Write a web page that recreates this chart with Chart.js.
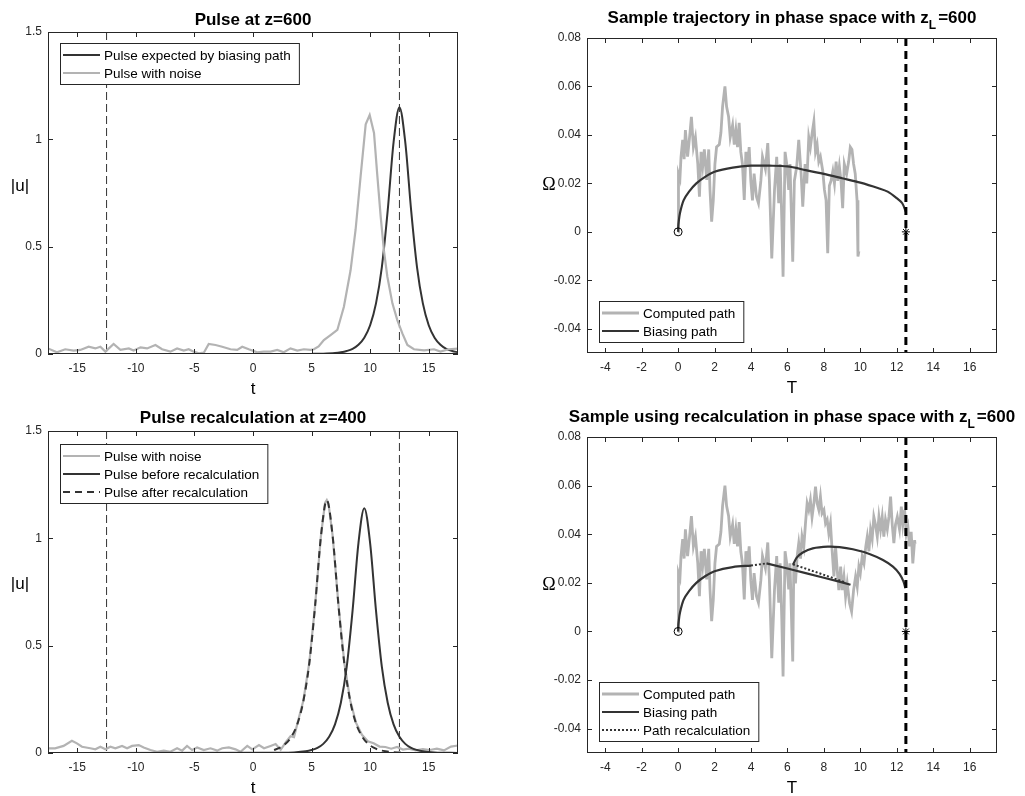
<!DOCTYPE html>
<html>
<head>
<meta charset="utf-8">
<script src="https://cdn.jsdelivr.net/npm/chart.js@4.4.0/dist/chart.umd.min.js"></script>
<style>
  body { margin: 0; background: #fff; width: 1025px; height: 796px; position: relative; overflow: hidden; }
  canvas { position: absolute; }
</style>
</head>
<body>
<canvas id="pulse600" style="left:0;top:0" width="512" height="395"></canvas>
<canvas id="phase600" style="left:512px;top:0" width="513" height="395"></canvas>
<canvas id="pulse400" style="left:0;top:395px" width="512" height="401"></canvas>
<canvas id="phaseRecalc" style="left:512px;top:395px" width="513" height="401"></canvas>
<script>
// four panels: pulse shapes (left) and phase-space paths (right)

const FONT = '"Liberation Sans", Arial, Helvetica, sans-serif';
const INK = '#262626';
const DARK = '#333333';
const GREY = '#b3b3b3';

// ---- axes ----
const tTicks = [-15, -10, -5, 0, 5, 10, 15];
const uTicks = [0, 0.5, 1, 1.5];
const TTicks = [-4, -2, 0, 2, 4, 6, 8, 10, 12, 14, 16];
const omegaTicks = [-0.04, -0.02, 0, 0.02, 0.04, 0.06, 0.08];
const tRange = [-17.5, 17.5];
const uRange = [0, 1.5];
const TRange = [-5, 17.5];
const omegaRange = [-0.05, 0.08];

// ---- pulse at z=600 ----
const windowEdges = [-12.5, 12.5];
const expectedT600 = [-17.5, 4, 5, 6, 7, 7.5, 8, 8.5, 9, 9.5, 10, 10.5, 11, 11.5, 12, 12.5, 13, 13.5, 14, 14.5, 15, 15.5, 16, 16.5, 17, 17.5];
const expectedU600 = [0, 0.0003, 0.0005, 0.0014, 0.0044, 0.008, 0.014, 0.024, 0.043, 0.076, 0.134, 0.236, 0.405, 0.669, 0.986, 1.15, 0.986, 0.669, 0.405, 0.236, 0.134, 0.076, 0.043, 0.024, 0.014, 0.008];
const noisyPulse600 = [
  [-17.5, 0.026], [-16.74, 0.008], [-16.03, 0.022], [-15.31, 0.016], [-14.74, 0.019], [-14.03, 0.034],
  [-13.46, 0.026], [-13.03, 0.034], [-12.6, 0.011], [-11.9, 0.047], [-11.32, 0.019], [-10.6, 0.026],
  [-10.19, 0.016], [-9.6, 0.031], [-9.04, 0.026], [-8.33, 0.042], [-7.76, 0.022], [-7.05, 0.011],
  [-6.48, 0.026], [-5.91, 0.016], [-5.49, 0.022], [-5.06, 0.011], [-4.63, 0.003], [-4.2, 0.006],
  [-3.78, 0.047], [-3.2, 0.042], [-2.63, 0.034], [-1.92, 0.022], [-1.35, 0.019], [-0.92, 0.034],
  [-0.36, 0.022], [0.36, 0.008], [0.92, 0.011], [1.5, 0.011], [2.07, 0.019], [2.63, 0.008],
  [3.2, 0.026], [3.78, 0.016], [4.34, 0.022], [4.91, 0.019], [5.2, 0.022], [5.6, 0.035],
  [6.05, 0.065], [6.62, 0.088], [7.2, 0.112], [7.76, 0.22], [8.33, 0.39], [8.76, 0.58],
  [9.19, 0.83], [9.62, 1.07], [9.96, 1.113], [10.33, 1.03], [10.6, 0.84], [10.9, 0.64],
  [11.18, 0.48], [11.47, 0.36], [11.9, 0.236], [12.32, 0.158], [12.75, 0.096], [13.18, 0.042],
  [13.74, 0.022], [14.6, 0.017], [15.45, 0.022], [16.0, 0.011], [16.7, 0.022], [17.5, 0.025]
];

// ---- pulse recalculation at z=400 ----
const beforeT400 = [-17.5, 2.5, 3.5, 4.5, 5, 5.5, 6, 6.5, 7, 7.5, 8, 8.5, 9, 9.5, 10, 10.5, 11, 11.5, 12, 12.5, 13, 13.5, 14, 14.5, 15.5, 17.5];
const beforeU400 = [0, 0.0008, 0.0025, 0.0079, 0.0139, 0.0238, 0.0426, 0.0753, 0.133, 0.234, 0.401, 0.663, 0.977, 1.14, 0.977, 0.663, 0.401, 0.234, 0.133, 0.0753, 0.0426, 0.0238, 0.0139, 0.0079, 0.0025, 0.0003];
const afterT400 = [1.8, 2.3, 2.8, 3.3, 3.8, 4.3, 4.8, 5.3, 5.8, 6.3, 6.8, 7.3, 7.8, 8.3, 8.8, 9.3, 9.8, 10.3, 10.8, 11.3, 11.8, 12.3, 12.8];
const afterU400 = [0.014, 0.025, 0.044, 0.078, 0.137, 0.242, 0.415, 0.685, 1.01, 1.178, 1.01, 0.685, 0.415, 0.242, 0.137, 0.078, 0.044, 0.025, 0.014, 0.008, 0.0045, 0.0026, 0.0015];
const noisyPulse400 = [
  [-17.5, 0.022], [-16.9, 0.022], [-16.17, 0.033], [-15.46, 0.057], [-15.03, 0.045], [-14.6, 0.029],
  [-13.89, 0.022], [-13.46, 0.017], [-13.03, 0.029], [-12.6, 0.017], [-12.17, 0.029], [-11.75, 0.022],
  [-11.18, 0.033], [-10.75, 0.022], [-10.32, 0.033], [-9.75, 0.037], [-9.33, 0.026], [-8.76, 0.014],
  [-8.19, 0.006], [-7.62, 0.011], [-7.05, 0.006], [-6.48, 0.022], [-6.05, 0.011], [-5.63, 0.033],
  [-5.2, 0.014], [-4.77, 0.026], [-4.2, 0.014], [-3.63, 0.022], [-3.06, 0.011], [-2.63, 0.022],
  [-2.06, 0.026], [-1.49, 0.017], [-1.06, 0.006], [-0.49, 0.033], [-0.06, 0.017], [0.51, 0.037],
  [0.94, 0.022], [1.5, 0.033], [1.93, 0.042], [2.36, 0.015], [2.8, 0.05], [3.2, 0.078],
  [3.5, 0.074], [3.8, 0.14], [4.3, 0.245], [4.8, 0.418], [5.3, 0.688], [5.8, 1.012],
  [6.15, 1.165], [6.3, 1.178], [6.45, 1.16], [6.8, 1.012], [7.3, 0.688], [7.8, 0.418],
  [8.3, 0.245], [8.8, 0.14], [9.3, 0.085], [9.8, 0.055], [10.3, 0.045], [10.8, 0.03],
  [11.3, 0.028], [11.8, 0.02], [12.3, 0.028], [12.8, 0.016], [13.3, 0.02], [13.9, 0.012],
  [14.5, 0.018], [15.1, 0.014], [15.7, 0.02], [16.3, 0.012], [16.9, 0.03], [17.5, 0.035]
];

// ---- phase space paths (T, Omega) ----
const targetT = 12.5;
const startPoint = [[0, 0]];
const targetPoint = [[12.5, 0]];
// noisy path, identical in both runs until the recalculation
const computedHead = [
  [0, 0], [0.02, 0.024], [0.1, 0.022], [0.16, 0.031], [0.25, 0.038], [0.33, 0.03], [0.4, 0.042],
  [0.52, 0.031], [0.65, 0.0407], [0.73, 0.0475], [0.84, 0.035], [0.95, 0.039], [1.08, 0.028],
  [1.17, 0.0145], [1.26, 0.033], [1.35, 0.027], [1.44, 0.034], [1.57, 0.0214], [1.68, 0.034],
  [1.75, 0.0173], [1.84, 0.0042], [1.93, 0.013], [2.02, 0.028], [2.11, 0.035], [2.26, 0.036],
  [2.35, 0.041], [2.44, 0.0517], [2.57, 0.06], [2.66, 0.0517], [2.77, 0.0475], [2.86, 0.039],
  [2.99, 0.044], [3.08, 0.036], [3.17, 0.042], [3.26, 0.035], [3.35, 0.045], [3.44, 0.033],
  [3.53, 0.028], [3.63, 0.0132], [3.72, 0.033], [3.81, 0.027], [3.9, 0.035], [3.99, 0.021],
  [4.08, 0.013], [4.17, 0.024], [4.3, 0.0145], [4.41, 0.0118], [4.54, 0.021], [4.63, 0.031],
  [4.79, 0.026], [4.92, 0.0366], [5.01, 0.021], [5.14, -0.011], [5.29, 0.0173], [5.41, 0.031],
  [5.52, 0.0118], [5.6, 0.028], [5.69, 0.0049], [5.76, -0.0185], [5.87, 0.033], [5.96, 0.028],
  [6.07, 0.0173], [6.14, 0.028], [6.29, -0.0123]
];
const computedTail600 = [
  [6.38, 0.021], [6.51, 0.027], [6.62, 0.038], [6.75, 0.024], [6.84, 0.0104], [6.97, 0.028],
  [7.06, 0.02], [7.17, 0.039], [7.26, 0.035], [7.36, 0.041], [7.45, 0.0455], [7.54, 0.033],
  [7.63, 0.036], [7.72, 0.029], [7.81, 0.031], [7.94, 0.025], [8.03, 0.0173], [8.12, 0.013],
  [8.21, -0.0088], [8.3, 0.019], [8.39, 0.021], [8.49, 0.025], [8.58, 0.02], [8.67, 0.029],
  [8.76, 0.021], [8.85, 0.027], [8.94, 0.021], [9.03, 0.0098], [9.12, 0.028], [9.25, 0.024],
  [9.36, 0.029], [9.45, 0.035], [9.54, 0.034], [9.63, 0.028], [9.72, 0.024], [9.82, 0.013],
  [9.87, -0.0102], [9.92, -0.008]
];
const computedTailRecalc = [
  [6.35, 0.028], [6.44, 0.0198], [6.53, 0.0308], [6.62, 0.0363], [6.72, 0.03], [6.8, 0.039],
  [6.9, 0.035], [6.99, 0.0445], [7.08, 0.0527], [7.17, 0.05], [7.26, 0.054], [7.35, 0.047],
  [7.45, 0.0527], [7.54, 0.0596], [7.63, 0.0527], [7.72, 0.05], [7.81, 0.0555], [7.9, 0.0486],
  [8.0, 0.05], [8.09, 0.0445], [8.18, 0.046], [8.27, 0.0404], [8.36, 0.0445], [8.45, 0.0335],
  [8.55, 0.0226], [8.64, 0.035], [8.73, 0.0253], [8.82, 0.017], [8.92, 0.0267], [9.0, 0.017],
  [9.1, 0.0226], [9.19, 0.0143], [9.28, 0.0198], [9.41, 0.0116], [9.52, 0.0082], [9.63, 0.017],
  [9.74, 0.0226], [9.83, 0.0185], [9.92, 0.0267], [10.0, 0.024], [10.1, 0.0308], [10.2, 0.028],
  [10.3, 0.035], [10.38, 0.039], [10.47, 0.033], [10.56, 0.0418], [10.65, 0.038], [10.74, 0.0472],
  [10.83, 0.044], [10.93, 0.039], [11.02, 0.0472], [11.11, 0.042], [11.2, 0.0472], [11.29, 0.039],
  [11.38, 0.046], [11.48, 0.042], [11.57, 0.0472], [11.66, 0.0555], [11.75, 0.044], [11.84, 0.0363],
  [11.93, 0.044], [12.03, 0.0472], [12.15, 0.042], [12.25, 0.0514], [12.33, 0.044], [12.43, 0.05],
  [12.52, 0.04], [12.61, 0.043], [12.7, 0.035], [12.79, 0.041], [12.88, 0.028], [12.98, 0.0376], [13.0, 0.036]
];
const biasing600 = [
  [0, 0], [0.01, 0.0025], [0.03, 0.004], [0.1, 0.0077], [0.3, 0.013], [0.6, 0.0166], [1, 0.02],
  [1.5, 0.0228], [2, 0.0248], [3, 0.0265], [4, 0.0273], [5, 0.0273], [6, 0.027], [7, 0.0255],
  [8, 0.0239], [9, 0.0221], [10, 0.0203], [11, 0.018], [11.5, 0.0166], [12, 0.0139], [12.3, 0.0118], [12.5, 0.0083]
];
const biasingPart1 = [
  [0, 0], [0.01, 0.0025], [0.03, 0.004], [0.1, 0.0077], [0.3, 0.013], [0.6, 0.0166], [1, 0.02],
  [1.5, 0.0228], [2, 0.0248], [3, 0.0265], [4, 0.0271]
];
const biasingPart2 = [[4.85, 0.028], [6, 0.0259], [7, 0.024], [8, 0.0221], [9, 0.0202], [9.46, 0.0192]];
const biasingPart3 = [
  [6.3, 0.0274], [6.5, 0.0303], [6.84, 0.0325], [7.39, 0.0342], [8.22, 0.0349], [8.86, 0.0347],
  [9.59, 0.0338], [10.5, 0.0319], [11.24, 0.0294], [11.79, 0.0267], [12.15, 0.0237], [12.37, 0.0205], [12.47, 0.0178]
];
const recalcStep1 = [[4, 0.0271], [4.45, 0.0276], [4.85, 0.028]];
const recalcStep2 = [[6.3, 0.0276], [7.5, 0.0246], [9.1, 0.0204]];

// ---- helpers ----
function pairs(xs, ys) { return xs.map((x, i) => ({ x, y: ys[i] })); }
function pts(list) { return list.map(p => ({ x: p[0], y: p[1] })); }
function vline(x, range) { return [{ x, y: range[1] }, { x, y: range[0] }]; }

function line(label, data, color, width, extra) {
  return Object.assign({
    label, data, borderColor: color, backgroundColor: color, borderWidth: width,
    showLine: true, pointRadius: 0, fill: false, tension: 0
  }, extra || {});
}
function marker(label, data, style, size) {
  return {
    label, data, showLine: false, pointStyle: style, pointRadius: size,
    borderColor: '#000', backgroundColor: 'rgba(0,0,0,0)', pointBorderWidth: 1, order: 0
  };
}

function framePlugin(cfg) {
  return {
    id: 'frame',
    afterDraw(chart) {
      const { ctx, chartArea: a } = chart;
      const sx = chart.scales.x, sy = chart.scales.y;
      ctx.save();
      ctx.setLineDash([]);
      ctx.strokeStyle = INK;
      ctx.lineWidth = 1;
      ctx.strokeRect(a.left + 0.5, a.top + 0.5, a.right - a.left - 1, a.bottom - a.top - 1);
      ctx.beginPath();
      sx.ticks.forEach(t => {
        const px = Math.round(sx.getPixelForValue(t.value)) + 0.5;
        ctx.moveTo(px, a.bottom); ctx.lineTo(px, a.bottom - 5);
        ctx.moveTo(px, a.top); ctx.lineTo(px, a.top + 5);
      });
      sy.ticks.forEach(t => {
        const py = Math.round(sy.getPixelForValue(t.value)) + 0.5;
        ctx.moveTo(a.left, py); ctx.lineTo(a.left + 5, py);
        ctx.moveTo(a.right, py); ctx.lineTo(a.right - 5, py);
      });
      ctx.stroke();

      // legend box inside the axes
      const L = cfg.legend;
      ctx.font = '13.5px ' + FONT;
      const items = L.labels.map(lab => chart.data.datasets.find(d => d.label === lab));
      const tw = Math.max(...L.labels.map(s => ctx.measureText(s).width));
      const w = 44 + tw + 8, h = 5 + 18 * items.length;
      const left = a.left + 12;
      const top = L.top != null ? a.top + L.top : a.bottom - L.bottom - h;
      ctx.fillStyle = '#fff';
      ctx.fillRect(left, top, w, h);
      ctx.strokeStyle = INK;
      ctx.lineWidth = 1;
      ctx.strokeRect(left + 0.5, top + 0.5, w, h);
      items.forEach((d, i) => {
        const cy = top + 12 + 18 * i;
        ctx.strokeStyle = d.borderColor;
        ctx.lineWidth = d.borderWidth;
        ctx.setLineDash(d.borderDash || []);
        ctx.beginPath(); ctx.moveTo(left + 3, cy); ctx.lineTo(left + 40, cy); ctx.stroke();
        ctx.setLineDash([]);
        ctx.fillStyle = '#000';
        ctx.textAlign = 'left';
        ctx.textBaseline = 'middle';
        ctx.fillText(d.label, left + 44, cy + 1);
      });

      // title, with optional subscript part
      const fMain = 'bold 17px ' + FONT, fSub = 'bold 12px ' + FONT;
      ctx.textBaseline = 'alphabetic';
      ctx.textAlign = 'left';
      ctx.fillStyle = '#000';
      let total = 0;
      cfg.title.forEach(p => { ctx.font = p[1] ? fSub : fMain; total += ctx.measureText(p[0]).width + (p[1] ? 2 : 0); });
      let x = (a.left + a.right) / 2 - total / 2;
      const base = a.top - cfg.titleGap;
      cfg.title.forEach(p => {
        ctx.font = p[1] ? fSub : fMain;
        ctx.fillText(p[0], x, base + (p[1] ? 6 : 0));
        x += ctx.measureText(p[0]).width + (p[1] ? 2 : 0);
      });

      // axis labels
      ctx.font = '17px ' + FONT;
      ctx.textAlign = 'center';
      ctx.fillText(cfg.xLabel, (a.left + a.right) / 2, a.bottom + 40);
      ctx.font = cfg.yFont;
      ctx.textBaseline = 'middle';
      ctx.fillText(cfg.yLabel, a.left - cfg.yDx, (a.top + a.bottom) / 2 - cfg.yDy);
      ctx.restore();
    }
  };
}

function axis(range, ticks, pad, fit) {
  return {
    type: 'linear', min: range[0], max: range[1],
    grid: { display: false, drawTicks: false },
    border: { display: false },
    ticks: {
      color: INK, font: { family: FONT, size: 12 }, padding: pad,
      autoSkip: false, maxRotation: 0, callback: v => String(v)
    },
    afterBuildTicks: s => { s.ticks = ticks.map(v => ({ value: v })); },
    afterFit: fit
  };
}

function makeChart(id, cfg) {
  return new Chart(document.getElementById(id), {
    type: 'scatter',
    data: { datasets: cfg.datasets },
    options: {
      responsive: false,
      animation: false,
      layout: { padding: cfg.pad },
      plugins: { legend: { display: false }, tooltip: { enabled: false } },
      scales: {
        x: axis(cfg.xRange, cfg.xTicks, 7, s => { s.height = cfg.xHeight; }),
        y: axis(cfg.yRange, cfg.yTicks, 6, s => { s.width = cfg.yWidth; })
      }
    },
    plugins: [framePlugin(cfg)]
  });
}

const guideStyle = { borderDash: [8, 4], order: 6 };
const smooth = { cubicInterpolationMode: 'monotone' };

makeChart('pulse600', {
  xRange: tRange, yRange: uRange, xTicks: tTicks, yTicks: uTicks,
  pad: { left: 0, top: 32, right: 54, bottom: 0 }, yWidth: 48, xHeight: 41,
  title: [['Pulse at z=600']], titleGap: 7,
  xLabel: 't', yLabel: '|u|', yFont: '17px ' + FONT, yDx: 28, yDy: 7,
  legend: { labels: ['Pulse expected by biasing path', 'Pulse with noise'], top: 11 },
  datasets: [
    line('Pulse with noise', pts(noisyPulse600), GREY, 2.2, { order: 1 }),
    line('Pulse expected by biasing path', pairs(expectedT600, expectedU600), DARK, 2, Object.assign({ order: 2 }, smooth)),
    line('edge1', vline(windowEdges[0], uRange), DARK, 1, guideStyle),
    line('edge2', vline(windowEdges[1], uRange), DARK, 1, guideStyle)
  ]
});

makeChart('phase600', {
  xRange: TRange, yRange: omegaRange, xTicks: TTicks, yTicks: omegaTicks,
  pad: { left: 0, top: 38, right: 28, bottom: 0 }, yWidth: 75, xHeight: 42,
  title: [['Sample trajectory in phase space with z'], ['L', true], ['=600']], titleGap: 15,
  xLabel: 'T', yLabel: '\u03A9', yFont: '18px "Liberation Serif", "DejaVu Serif", serif', yDx: 38, yDy: 10,
  legend: { labels: ['Computed path', 'Biasing path'], bottom: 11 },
  datasets: [
    line('Computed path', pts(computedHead.concat(computedTail600)), GREY, 2.8, { order: 5 }),
    line('Biasing path', pts(biasing600), DARK, 2.2, { order: 2, tension: 0.3 }),
    line('target', vline(targetT, omegaRange), '#000', 3, { borderDash: [8, 5], order: 1 }),
    marker('start', pts(startPoint), 'circle', 4),
    marker('end', pts(targetPoint), 'star', 4)
  ]
});

makeChart('pulse400', {
  xRange: tRange, yRange: uRange, xTicks: tTicks, yTicks: uTicks,
  pad: { left: 0, top: 36, right: 54, bottom: 0 }, yWidth: 48, xHeight: 43,
  title: [['Pulse recalculation at z=400']], titleGap: 8,
  xLabel: 't', yLabel: '|u|', yFont: '17px ' + FONT, yDx: 28, yDy: 8,
  legend: { labels: ['Pulse with noise', 'Pulse before recalculation', 'Pulse after recalculation'], top: 13 },
  datasets: [
    line('Pulse with noise', pts(noisyPulse400), GREY, 2.2, { order: 3 }),
    line('Pulse before recalculation', pairs(beforeT400, beforeU400), DARK, 2, Object.assign({ order: 2 }, smooth)),
    line('Pulse after recalculation', pairs(afterT400, afterU400), DARK, 2, Object.assign({ order: 1, borderDash: [7, 5] }, smooth)),
    line('edge1', vline(windowEdges[0], uRange), DARK, 1, guideStyle),
    line('edge2', vline(windowEdges[1], uRange), DARK, 1, guideStyle)
  ]
});

makeChart('phaseRecalc', {
  xRange: TRange, yRange: omegaRange, xTicks: TTicks, yTicks: omegaTicks,
  pad: { left: 0, top: 42, right: 28, bottom: 0 }, yWidth: 75, xHeight: 43,
  title: [['Sample using recalculation in phase space with z'], ['L', true], ['=600']], titleGap: 15,
  xLabel: 'T', yLabel: '\u03A9', yFont: '18px "Liberation Serif", "DejaVu Serif", serif', yDx: 38, yDy: 10,
  legend: { labels: ['Computed path', 'Biasing path', 'Path recalculation'], bottom: 12 },
  datasets: [
    line('Computed path', pts(computedHead.concat(computedTailRecalc)), GREY, 2.8, { order: 5 }),
    line('Biasing path', pts(biasingPart1), DARK, 2.2, { order: 2, tension: 0.3 }),
    line('Biasing path 2', pts(biasingPart2), DARK, 2.2, { order: 2 }),
    line('Biasing path 3', pts(biasingPart3), DARK, 2.2, { order: 2, tension: 0.3 }),
    line('Path recalculation', pts(recalcStep1), DARK, 2, { order: 2, borderDash: [2, 2] }),
    line('Path recalculation 2', pts(recalcStep2), DARK, 2, { order: 2, borderDash: [2, 2] }),
    line('target', vline(targetT, omegaRange), '#000', 3, { borderDash: [8, 5], order: 1 }),
    marker('start', pts(startPoint), 'circle', 4),
    marker('end', pts(targetPoint), 'star', 4)
  ]
});
</script>
</body>
</html>
